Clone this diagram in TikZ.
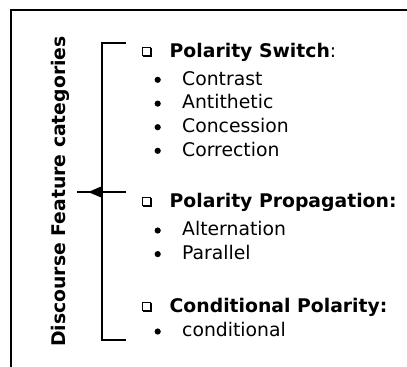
\documentclass[tikz,border=0pt]{standalone}
\usepackage{fontspec}
\setmainfont{DejaVu Sans}
\usetikzlibrary{arrows.meta}

\tikzset{
  txt/.style={inner sep=0pt, font=\fontsize{18.8bp}{22bp}\selectfont},
  hdr/.style={txt, anchor=base west, font=\fontsize{18.8bp}{22bp}\selectfont\bfseries},
  itm/.style={txt, anchor=base west},
  bul/.style={circle, fill, inner sep=0pt, minimum size=6.2bp},
  brk/.style={line width=2.4bp},
  chkbox/.pic={
    \draw[line width=1.1bp] (0.6,-9.6) rectangle (8.6,-1.6);
    \fill (7.9,-8.6) rectangle (10.4,0);
    \fill (1.4,-2.2) rectangle (10.4,0);
  }
}

\begin{document}
\begin{tikzpicture}[x=1bp, y=-1bp]
    \useasboundingbox (0,0) rectangle (407,367);

    % Frame
    \draw[brk] (11,367) -- (11,10) -- (407,10);

    % Title
    \node[txt, rotate=90, anchor=base, font=\fontsize{18.8bp}{22bp}\selectfont\bfseries]
        (title) at (65,191.5) {Discourse Feature categories};

    % Bracket
    \coordinate (top) at (126,43);
    \coordinate (tl) at (102,43);
    \coordinate (bl) at (102,340);
    \coordinate (bot) at (126,340);
    \coordinate (mid) at (126,192);
    \coordinate (midl) at (102,192);
    \coordinate (tip) at (88,192);
    \coordinate (tail) at (77,192);
    \draw[brk] (top) -- (tl) -- (bl) -- (bot);
    \draw[brk] (mid) -- (tail);
    \draw[brk, -{Triangle[length=14bp, width=11bp]}] (midl) -- (tip);

    % Categories
    \pic at (142,57) {chkbox};
    \node[hdr] (sw) at (169.5,57) {Polarity Switch\mdseries:};
    \node[itm] (contrast) at (182,85) {Contrast};
    \node[itm] (anti) at (182,108.8) {Antithetic};
    \node[itm] (conc) at (182,132.4) {Concession};
    \node[itm] (corr) at (182,156) {Correction};

    \pic at (142,207) {chkbox};
    \node[hdr] (prop) at (169.5,207) {Polarity Propagation:};
    \node[itm] (alt) at (182,235.7) {Alternation};
    \node[itm] (par) at (182,259.3) {Parallel};

    \pic at (142,312) {chkbox};
    \node[hdr] (cond) at (169.5,312) {Conditional Polarity:};
    \node[itm] (condi) at (182,336.7) {conditional};

    % Bullets
    \foreach \y [count=\i] in {85,108.8,132.4,156,235.7,259.3,336.7}
        \node[bul] (b\i) at (157.7,\y-5.2) {};
\end{tikzpicture}
\end{document}
